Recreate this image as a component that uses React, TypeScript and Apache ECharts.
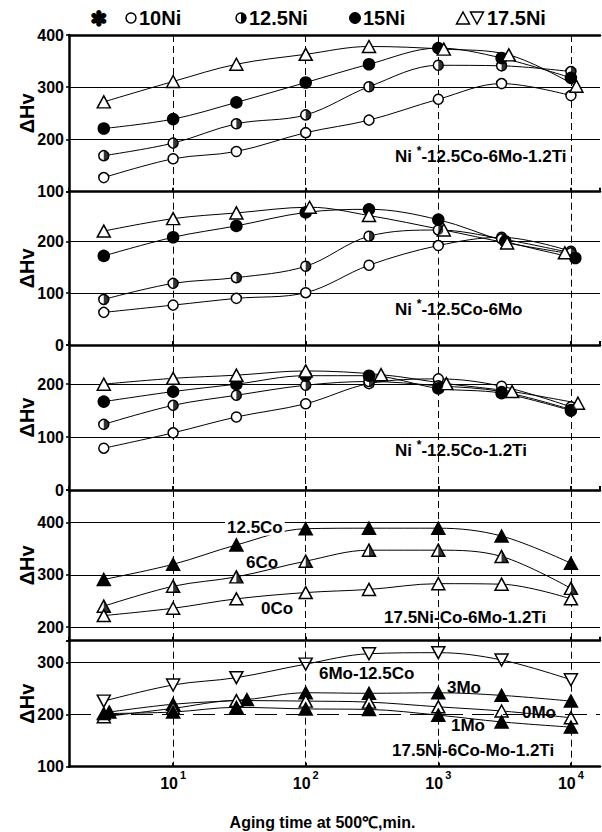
import { useEffect, useRef } from 'react';
import * as echarts from 'echarts';

// ---------- data (aging time in min, ΔHv) ----------
const agingTimes = [3, 10, 30, 100, 300, 1000, 3000, 10000];

// Panel 1: Ni*-12.5Co-6Mo-1.2Ti
const p1Ni10 = [127, 163, 177, 213, 237, 277, 307, 284];
const p1Ni125 = [169, 193, 230, 247, 301, 342, 341, 330];
const p1Ni15 = [221, 239, 271, 309, 344, 375, 356, 318];
const p1Ni175 = [272, 311, 344, 363, 378, 373, 362, 302];
const p1Ni175Times = [3, 10, 30, 100, 300, 1100, 3400, 11000];

// Panel 2: Ni*-12.5Co-6Mo
const p2Ni10 = [63, 77, 90, 101, 154, 192, 208, 181];
const p2Ni125 = [88, 119, 130, 152, 210, 222, 205, 178];
const p2Ni15 = [172, 208, 230, 256, 262, 242, 200, 168];
const p2Ni15Times = [3, 10, 30, 100, 300, 1000, 3200, 10800];
const p2Ni175 = [220, 244, 255, 266, 250, 222, 197, 178];
const p2Ni175Times = [3, 10, 30, 107, 300, 1100, 3300, 9000];

// Panel 3: Ni*-12.5Co-1.2Ti
const p3Ni10 = [79, 108, 138, 163, 201, 210, 196, 157];
const p3Ni125 = [124, 160, 179, 198, 205, 197, 186, 152];
const p3Ni15 = [167, 186, 200, 216, 216, 192, 183, 150];
const p3Ni175 = [200, 211, 217, 225, 218, 201, 186, 164];
const p3Ni175Times = [3, 10, 30, 100, 370, 1150, 3600, 11300];

// Panel 4: 17.5Ni-Co-6Mo-1.2Ti
const p4Co125 = [291, 320, 357, 388, 389, 389, 374, 322];
const p4Co6 = [240, 278, 296, 326, 347, 347, 335, 274];
const p4Co0 = [222, 236, 254, 266, 272, 283, 282, 254];

// Panel 5: 17.5Ni-6Co-Mo-1.2Ti
const p5Mo6Co125 = [226, 257, 271, 297, 317, 319, 305, 267];
const p5Mo3 = [205, 220, 229, 242, 241, 242, 237, 226];
const p5Mo3Times = [3.3, 10, 36, 100, 300, 1000, 3000, 10000];
const p5Mo0 = [196, 212, 227, 226, 224, 215, 207, 194];
const p5Mo1 = [202, 205, 214, 211, 210, 199, 186, 176];

// y ranges of the five panels
const yMins = [100, 0, 0, 174, 100];
const yMaxs = [400, 296, 274, 462, 342];
// reference lines of the last panel (solid, dashed)
const p5GridSolid = 300;
const p5GridDashed = 200;

const legendLabels = ['10Ni', '12.5Ni', '15Ni', '17.5Ni'];

// ---------- styling ----------
const FONT = "'Liberation Sans', Arial, Helvetica, sans-serif";
const GRID_LEFT = 69;
const GRID_WIDTH = 531;
const gridTops = [35, 191.7, 345, 490, 640.7];
const gridHeights = [156.7, 153.3, 145, 150.7, 126];

const HALF_DISC = 'path://M0,0 A10,10 0 0 1 0,20 Z';
const HALF_TRI = 'path://M0,0 L10,20 L0,20 Z';

type Kind = 'openCircle' | 'halfCircle' | 'filledCircle' | 'openTri' | 'halfTri' | 'filledTri' | 'openDownTri';

function buildSeries(g: number, name: string, times: number[], values: number[], kind: Kind, extra: any = {}): any[] {
  const data = times.map((t, i) => [t, values[i]]);
  const isCircle = kind === 'openCircle' || kind === 'halfCircle' || kind === 'filledCircle';
  const filled = kind === 'filledCircle' || kind === 'filledTri';
  const size = isCircle ? (kind === 'filledCircle' ? 11 : 10) : [13, 12];
  const out: any[] = [
    {
      type: 'line',
      name,
      xAxisIndex: g,
      yAxisIndex: g,
      data,
      smooth: 0.35,
      symbol: isCircle ? 'circle' : 'triangle',
      symbolRotate: kind === 'openDownTri' ? 180 : 0,
      symbolSize: size,
      showSymbol: true,
      lineStyle: { color: '#000', width: 1 },
      itemStyle: { color: filled ? '#000' : '#fff', borderColor: '#000', borderWidth: 1.5 },
      z: 2,
      silent: true,
      ...extra,
    },
  ];
  if (kind === 'halfCircle' || kind === 'halfTri') {
    out.push({
      type: 'scatter',
      xAxisIndex: g,
      yAxisIndex: g,
      data,
      symbol: kind === 'halfCircle' ? HALF_DISC : HALF_TRI,
      symbolSize: kind === 'halfCircle' ? [5, 10] : [6.5, 12],
      symbolOffset: kind === 'halfCircle' ? [2.5, 0] : [3.25, 0],
      itemStyle: { color: '#000', borderWidth: 0 },
      z: 3,
      silent: true,
    });
  }
  return out;
}

const decadeLabel = (v: number) => {
  const e = Math.log10(v);
  const r = Math.round(e);
  if (Math.abs(e - r) > 1e-6 || r < 1) return '';
  return `{b|10}{e|${r}}`;
};

function txt(text: string, x: number, y: number, size = 17, extra: any = {}) {
  return {
    type: 'text',
    x,
    y,
    z: 10,
    style: {
      text,
      fill: '#000',
      fontFamily: FONT,
      fontSize: size,
      fontWeight: 'bold',
      textAlign: 'left',
      textVerticalAlign: 'middle',
      align: 'left',
      verticalAlign: 'middle',
      ...extra,
    },
  };
}

function supText(before: string, after: string, x: number, y: number) {
  return txt(`{a|${before}}{s|*}{a|${after}}`, x, y, 17, {
    rich: {
      a: { fontFamily: FONT, fontSize: 17, fontWeight: 'bold', fill: '#000', lineHeight: 20, verticalAlign: 'bottom' },
      s: { fontFamily: FONT, fontSize: 12, fontWeight: 'bold', fill: '#000', lineHeight: 12, verticalAlign: 'top' },
    },
  });
}

function buildOption() {
  const grid = gridTops.map((top, i) => ({ left: GRID_LEFT, width: GRID_WIDTH, top, height: gridHeights[i] }));

  const xAxis: any[] = gridTops.map((_, i) => ({
    type: 'log',
    logBase: 10,
    gridIndex: i,
    min: 1.64,
    max: 16570,
    axisLine: { show: true, onZero: false, lineStyle: { color: '#000', width: 2.5 } },
    axisTick: { show: true, inside: true, length: 4, lineStyle: { color: '#000', width: 2 } },
    minorTick: { show: false },
    axisLabel: {
      show: i === 4,
      margin: 3,
      formatter: decadeLabel,
      showMinLabel: false,
      showMaxLabel: false,
      rich: {
        b: { fontFamily: FONT, fontSize: 16, fontWeight: 'bold', color: '#000', lineHeight: 22, verticalAlign: 'bottom' },
        e: { fontFamily: FONT, fontSize: 11, fontWeight: 'bold', color: '#000', lineHeight: 12, verticalAlign: 'top', padding: [0, 0, 0, 2] },
      },
    },
    splitLine: {
      show: true,
      showMinLine: false,
      showMaxLine: false,
      lineStyle: { color: '#000', width: 1, type: [7, 4] },
    },
    name: i === 4 ? 'Aging time at 500℃,min.' : '',
    nameLocation: 'middle',
    nameGap: 48,
    nameMoveOverlap: false,
    nameTextStyle: { fontFamily: FONT, fontSize: 16, fontWeight: 'bold', color: '#000', padding: [0, 24, 0, 0] },
  }));
  // top frame of the first panel
  xAxis.push({
    type: 'log',
    logBase: 10,
    gridIndex: 0,
    position: 'top',
    min: 1.64,
    max: 16570,
    axisLine: { show: true, lineStyle: { color: '#000', width: 2.5 } },
    axisTick: { show: false },
    axisLabel: { show: false },
    splitLine: { show: false },
  });

  const yAxis = gridTops.map((_, i) => ({
    type: 'value',
    gridIndex: i,
    min: yMins[i],
    max: yMaxs[i],
    ...(yMins[i] % 100 === 0 ? { interval: 100 } : { splitNumber: 3 }),
    name: 'ΔHv',
    nameLocation: 'middle',
    nameRotate: 90,
    nameGap: 32,
    nameMoveOverlap: false,
    nameTextStyle: { fontFamily: FONT, fontSize: 20, fontWeight: 'bold', color: '#000' },
    axisLine: { show: true, onZero: false, lineStyle: { color: '#000', width: 2.5 } },
    axisTick: { show: true, length: 3, lineStyle: { color: '#000', width: 1.5 } },
    axisLabel: {
      fontFamily: FONT,
      fontSize: 16,
      fontWeight: 'bold',
      color: '#000',
      margin: 5,
      formatter: (v: number) => (v % 100 === 0 ? String(v) : ''),
    },
    splitLine: {
      show: i !== 4,
      showMinLine: false,
      showMaxLine: false,
      lineStyle: { color: '#000', width: 1, type: 'solid' },
    },
  }));

  const p5GridLines = {
    markLine: {
      silent: true,
      symbol: 'none',
      label: { show: false },
      animation: false,
      data: [
        { yAxis: p5GridSolid, lineStyle: { color: '#000', width: 1, type: 'solid' } },
        { yAxis: p5GridDashed, lineStyle: { color: '#000', width: 1, type: [22, 9] } },
      ],
    },
  };

  const series: any[] = [
    ...buildSeries(0, legendLabels[0], agingTimes, p1Ni10, 'openCircle'),
    ...buildSeries(0, legendLabels[1], agingTimes, p1Ni125, 'halfCircle'),
    ...buildSeries(0, legendLabels[2], agingTimes, p1Ni15, 'filledCircle'),
    ...buildSeries(0, legendLabels[3], p1Ni175Times, p1Ni175, 'openTri'),

    ...buildSeries(1, legendLabels[0], agingTimes, p2Ni10, 'openCircle'),
    ...buildSeries(1, legendLabels[1], agingTimes, p2Ni125, 'halfCircle'),
    ...buildSeries(1, legendLabels[2], p2Ni15Times, p2Ni15, 'filledCircle'),
    ...buildSeries(1, legendLabels[3], p2Ni175Times, p2Ni175, 'openTri'),

    ...buildSeries(2, legendLabels[0], agingTimes, p3Ni10, 'openCircle'),
    ...buildSeries(2, legendLabels[1], agingTimes, p3Ni125, 'halfCircle'),
    ...buildSeries(2, legendLabels[2], agingTimes, p3Ni15, 'filledCircle'),
    ...buildSeries(2, legendLabels[3], p3Ni175Times, p3Ni175, 'openTri'),

    ...buildSeries(3, '12.5Co', agingTimes, p4Co125, 'filledTri'),
    ...buildSeries(3, '6Co', agingTimes, p4Co6, 'halfTri'),
    ...buildSeries(3, '0Co', agingTimes, p4Co0, 'openTri'),

    ...buildSeries(4, '6Mo-12.5Co', agingTimes, p5Mo6Co125, 'openDownTri', p5GridLines),
    ...buildSeries(4, '3Mo', p5Mo3Times, p5Mo3, 'filledTri'),
    ...buildSeries(4, '0Mo', agingTimes, p5Mo0, 'openTri'),
    ...buildSeries(4, '1Mo', agingTimes, p5Mo1, 'filledTri'),
  ];

  const ly = 18;
  const tri = (cx: number, cy: number, down: boolean) => ({
    type: 'polygon',
    z: 10,
    shape: {
      points: down
        ? [[cx - 6.5, cy - 6], [cx + 6.5, cy - 6], [cx, cy + 6]]
        : [[cx, cy - 6], [cx + 6.5, cy + 6], [cx - 6.5, cy + 6]],
    },
    style: { fill: '#fff', stroke: '#000', lineWidth: 1.5 },
  });

  const graphic: any[] = [
    // legend
    txt('✽', 90, ly, 21),
    { type: 'circle', z: 10, shape: { cx: 131, cy: ly, r: 5 }, style: { fill: '#fff', stroke: '#000', lineWidth: 1.5 } },
    txt(legendLabels[0], 139, ly, 20),
    { type: 'circle', z: 10, shape: { cx: 241, cy: ly, r: 5 }, style: { fill: '#fff', stroke: '#000', lineWidth: 1.5 } },
    { type: 'sector', z: 11, shape: { cx: 241, cy: ly, r: 5, r0: 0, startAngle: -Math.PI / 2, endAngle: Math.PI / 2 }, style: { fill: '#000' } },
    txt(legendLabels[1], 249, ly, 20),
    { type: 'circle', z: 10, shape: { cx: 355, cy: ly, r: 5.5 }, style: { fill: '#000', stroke: '#000', lineWidth: 1 } },
    txt(legendLabels[2], 363, ly, 20),
    tri(463, ly, false),
    tri(477, ly, true),
    txt(legendLabels[3], 487, ly, 20),

    // panel annotations
    supText('Ni ', '-12.5Co-6Mo-1.2Ti', 395, 155),
    supText('Ni ', '-12.5Co-6Mo', 395, 308),
    supText('Ni ', '-12.5Co-1.2Ti', 395, 449),
    txt('17.5Ni-Co-6Mo-1.2Ti', 384, 617),
    txt('12.5Co', 225, 527, 17, { backgroundColor: '#fff', padding: [0, 2] }),
    txt('6Co', 246, 562),
    txt('0Co', 261, 608),
    txt('6Mo-12.5Co', 319, 673),
    txt('3Mo', 447, 687),
    txt('0Mo', 522, 712),
    txt('1Mo', 451, 725),
    txt('17.5Ni-6Co-Mo-1.2Ti', 392, 750),
  ];

  return {
    animation: false,
    backgroundColor: '#fff',
    textStyle: { fontFamily: FONT },
    grid,
    xAxis,
    yAxis,
    series,
    graphic,
  };
}

export default function App() {
  const ref = useRef<HTMLDivElement>(null);
  useEffect(() => {
    if (!ref.current) return;
    const chart = echarts.init(ref.current, undefined, { renderer: 'svg' });
    chart.setOption(buildOption() as any);
    return () => chart.dispose();
  }, []);
  return (
    <div
      ref={ref}
      style={{ position: 'absolute', left: 0, top: 0, width: 602, height: 832, background: '#fff' }}
    />
  );
}
